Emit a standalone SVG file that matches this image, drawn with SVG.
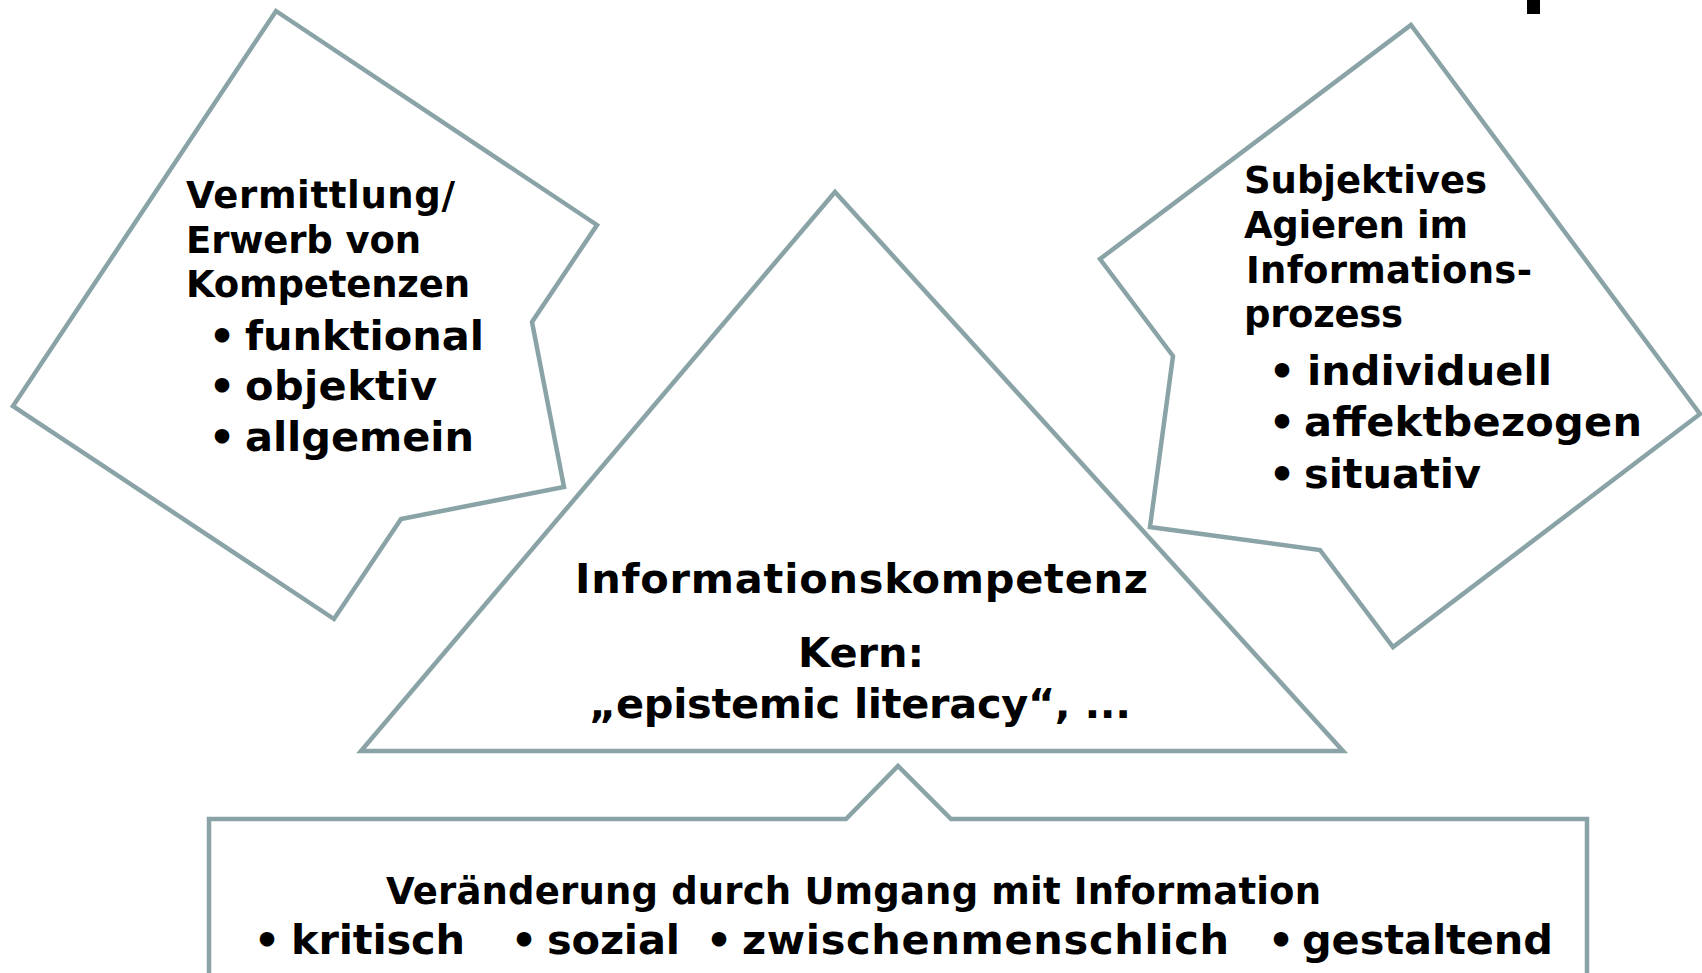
<svg xmlns="http://www.w3.org/2000/svg" width="1702" height="973" viewBox="0 0 1702 973">
<style>
.shape{fill:none;stroke:#8AA3A6;stroke-width:4.5;stroke-linejoin:miter}
.t{font-family:"DejaVu Sans","Verdana",sans-serif;font-weight:bold;fill:#000}
.h{font-size:37px}
.b{font-size:41.5px}
</style>
<rect x="0" y="0" width="1702" height="973" fill="#ffffff"/>
<rect x="1527" y="0" width="13" height="14" fill="#000"/>
<g id="node-vermittlung">
<polygon class="shape" points="276,11 597,225 532,322 564,487 401,519 334,619 13,406"/>
<text class="t h" x="186" y="208" textLength="269" lengthAdjust="spacing">Vermittlung/</text>
<text class="t h" x="186" y="253" textLength="235" lengthAdjust="spacing">Erwerb von</text>
<text class="t h" x="186" y="297" textLength="284" lengthAdjust="spacing">Kompetenzen</text>
<text class="t b" x="222" y="350" text-anchor="middle">•</text>
<text class="t b" x="245" y="350" textLength="239" lengthAdjust="spacing">funktional</text>
<text class="t b" x="222" y="400" text-anchor="middle">•</text>
<text class="t b" x="245" y="400" textLength="192" lengthAdjust="spacing">objektiv</text>
<text class="t b" x="222" y="451" text-anchor="middle">•</text>
<text class="t b" x="245" y="451" textLength="229" lengthAdjust="spacing">allgemein</text>
</g>
<g id="node-subjektiv">
<polygon class="shape" points="1411,25 1700,414 1393,647 1320,550 1150,527 1173,356 1100,259"/>
<text class="t h" x="1244" y="193" textLength="243" lengthAdjust="spacing">Subjektives</text>
<text class="t h" x="1244" y="238" textLength="224" lengthAdjust="spacing">Agieren im</text>
<text class="t h" x="1246" y="283" textLength="286" lengthAdjust="spacing">Informations-</text>
<text class="t h" x="1244" y="327" textLength="159" lengthAdjust="spacing">prozess</text>
<text class="t b" x="1282" y="385" text-anchor="middle">•</text>
<text class="t b" x="1307" y="385" textLength="245" lengthAdjust="spacing">individuell</text>
<text class="t b" x="1282" y="436" text-anchor="middle">•</text>
<text class="t b" x="1304" y="436" textLength="338" lengthAdjust="spacing">affektbezogen</text>
<text class="t b" x="1282" y="488" text-anchor="middle">•</text>
<text class="t b" x="1304" y="488" textLength="177" lengthAdjust="spacing">situativ</text>
</g>
<g id="node-informationskompetenz">
<polygon class="shape" points="835,192 1343,751 361,751"/>
<text class="t b" x="575" y="593" textLength="573" lengthAdjust="spacing">Informationskompetenz</text>
<text class="t b" x="798" y="667" textLength="126" lengthAdjust="spacing">Kern:</text>
<text class="t b" x="589" y="718" textLength="542" lengthAdjust="spacing">„epistemic literacy“, ...</text>
</g>
<g id="node-veraenderung">
<path class="shape" d="M209,975 L209,819 L846,819 L898,766 L951,819 L1587,819 L1587,975"/>
<text class="t h" x="386" y="904" textLength="935" lengthAdjust="spacing">Veränderung durch Umgang mit Information</text>
<text class="t b" x="267" y="954" text-anchor="middle">•</text>
<text class="t b" x="291" y="954" textLength="174" lengthAdjust="spacing">kritisch</text>
<text class="t b" x="524" y="954" text-anchor="middle">•</text>
<text class="t b" x="547" y="954" textLength="133" lengthAdjust="spacing">sozial</text>
<text class="t b" x="719" y="954" text-anchor="middle">•</text>
<text class="t b" x="742" y="954" textLength="487" lengthAdjust="spacing">zwischenmenschlich</text>
<text class="t b" x="1281" y="954" text-anchor="middle">•</text>
<text class="t b" x="1302" y="954" textLength="251" lengthAdjust="spacing">gestaltend</text>
</g>
<g id="connectors"></g>
</svg>
